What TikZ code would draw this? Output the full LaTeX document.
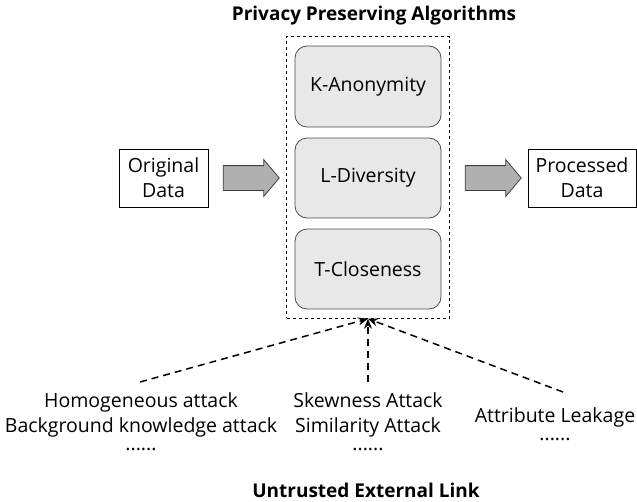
\documentclass[tikz,border=0pt]{standalone}
\usepackage{fontspec}
\setmainfont{Open Sans}
\usepackage{tikz}
\usetikzlibrary{shapes.arrows, arrows.meta, fit}

\begin{document}
\begin{tikzpicture}[x=1pt, y=-1pt, every node/.style={font=\fontsize{19.5}{25}\selectfont}]
        % Define block styles
        \tikzstyle{algo} = [rectangle, draw=gray!60!black, fill=gray!18, line width=0.8pt,
                            minimum width=146pt, minimum height=81pt, rounded corners=12pt]
        \tikzstyle{data} = [rectangle, draw, line width=0.6pt, align=center,
                            minimum height=58pt, inner sep=0pt]
        \tikzstyle{flow} = [single arrow, draw=gray!50!black, fill=gray!62, line width=0.8pt,
                            inner sep=12pt, single arrow head extend=6pt,
                            single arrow tip angle=100, minimum height=56pt]
        \tikzstyle{attack} = [line width=1.5pt, dash pattern=on 7pt off 5pt, -{Stealth[length=10pt, width=8pt]}]
        \tikzstyle{title} = [font=\fontsize{19}{22}\selectfont\bfseries]

        \useasboundingbox (0,0) rectangle (637,501);

        % Algorithm blocks stacked in a column
        \node (kanon) [algo] at (368,86.5) {K-Anonymity};
        \node (ldiv) [algo, minimum height=80pt] at (368,178) {L-Diversity};
        \node (tclose) [algo, minimum height=80pt] at (368,269) {T-Closeness};
        \node (ppa) [draw, dashed, line width=0.7pt, inner xsep=8pt, inner ysep=9pt, fit=(kanon)(tclose)] {};
        \node (ppatitle) [title] at (374,16) {Privacy Preserving Algorithms};

        % Input and output data
        \node (orig) [data, minimum width=89pt] at (163.5,178) {Original\\Data};
        \node (proc) [data, minimum width=108pt] at (582,178) {Processed\\Data};
        \node (inarrow) [flow] at (246,178) {};
        \node (outarrow) [flow] at (488,178) {};

        % Attacks from the outside
        \node (homog) [align=center] at (141,422) {Homogeneous attack\\Background knowledge attack\\[-7pt]......};
        \node (skew) [align=center] at (368,422) {Skewness Attack\\Similarity Attack\\[-7pt]......};
        \node (leak) [align=center] at (555,424) {Attribute Leakage\\[-7pt]......};
        \node (untrusted) [title] at (366,490) {Untrusted External Link};

        \coordinate (homogtop) at (140,382);
        \coordinate (skewtop) at (368,382);
        \coordinate (leaktop) at (563,392);

        % Dashed attack links
        \draw [attack] (homogtop) -- (ppa.south);
        \draw [attack] (skewtop) -- (ppa.south);
        \draw [attack] (leaktop) -- (ppa.south);
    \end{tikzpicture}
\end{document}
